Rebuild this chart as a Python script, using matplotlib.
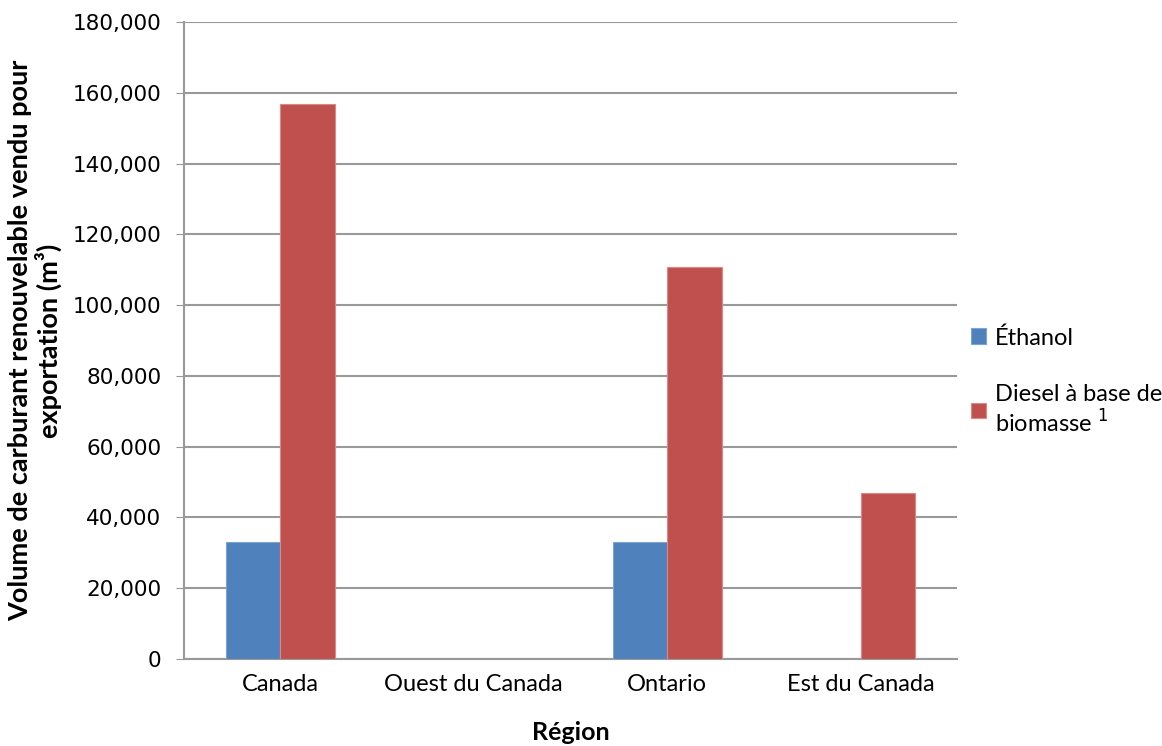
import matplotlib.pyplot as plt
import numpy as np

# Data
regions = ['Canada', 'Ouest du Canada', 'Ontario', 'Est du Canada']
ethanol = [33100, 0, 33100, 0]
diesel = [157000, 0, 110700, 46900]

blue = '#4F81BD'
red = '#C0504D'

fig = plt.figure(figsize=(11.62, 7.46), dpi=100)
ax = fig.add_axes([0.158, 0.117, 0.666, 0.853])

x = np.arange(len(regions))
w = 0.282
ax.bar(x - w / 2, ethanol, w, color=blue, edgecolor='#7FA3CF', linewidth=0.8,
       label='Éthanol', zorder=3)
ax.bar(x + w / 2, diesel, w, color=red, edgecolor='#D98A88', linewidth=0.8,
       label='Diesel à base de\nbiomasse $^{1}$', zorder=3)

ax.set_xlim(-0.5, 3.5)
ax.set_ylim(0, 180000)
ax.set_yticks(np.arange(0, 180001, 20000))
ax.set_yticklabels([f'{v:,}' for v in range(0, 180001, 20000)],
                   fontsize=15.5, family='DejaVu Sans')
ax.set_xticks(x)
ax.set_xticklabels(regions, fontsize=17, family='Lato')
ax.tick_params(axis='x', length=0, pad=11)
ax.tick_params(axis='y', length=6, color='#999999', direction='out', pad=10)
ax.yaxis.grid(True, color='#999999', linewidth=1.5, zorder=0)

for side in ['top', 'right']:
    ax.spines[side].set_visible(False)
for side in ['left', 'bottom']:
    ax.spines[side].set_color('#999999')
    ax.spines[side].set_linewidth(1.5)

ax.set_ylabel('Volume de carburant renouvelable vendu pour\nexportation (m³)',
              fontsize=19.5, fontweight='bold', family='Lato', labelpad=8,
              linespacing=1.1)
ax.set_xlabel('Région', fontsize=18, fontweight='bold', family='Lato', labelpad=19)

ax.legend(loc='center left', bbox_to_anchor=(0.99, 0.435), frameon=False,
          prop={'family': 'Lato', 'size': 17}, handlelength=0.65,
          handleheight=0.65, handletextpad=0.35, labelspacing=1.5)

fig.savefig('out.png', dpi=100)
